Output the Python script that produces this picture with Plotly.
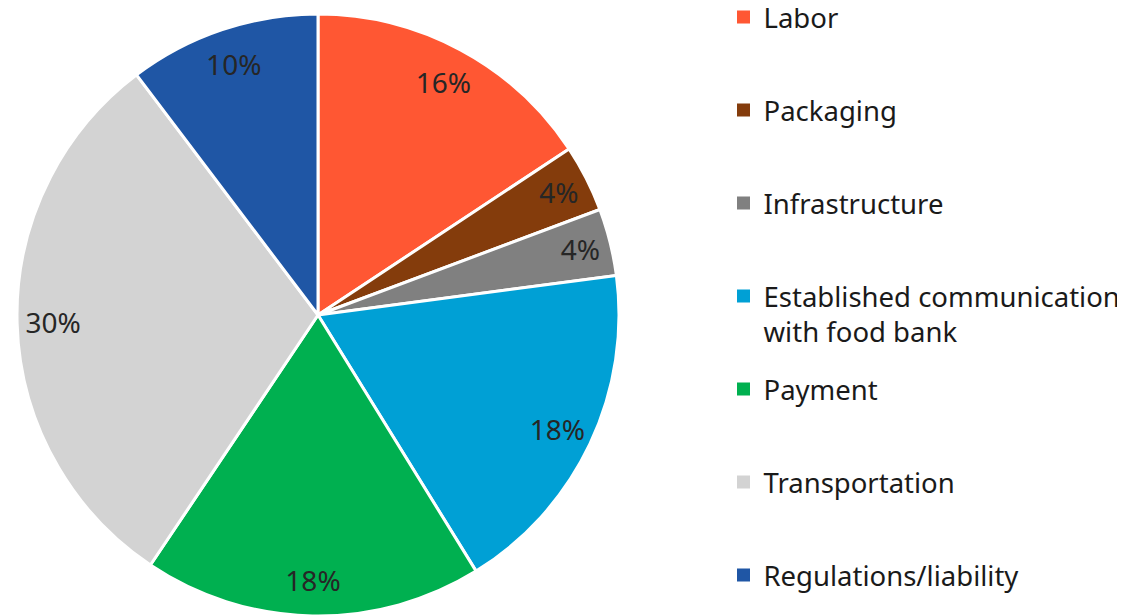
import plotly.graph_objects as go

labels = ["Labor", "Packaging", "Infrastructure", "Established communication<br>with food bank",
          "Payment", "Transportation", "Regulations/liability"]
values = [15.7, 3.6, 3.6, 18.3, 18.2, 30.3, 10.3]
colors = ["#FF5733", "#843C0C", "#808080", "#00A0D5", "#00B050", "#D3D3D3", "#1F56A5"]

font = "Noto Sans"
W, H = 1125, 616
# page body adds an 8px offset, so the pie is placed 8px up/left of the target
cx, cy, r = 310, 307, 301
dom = dict(x=[(cx - r) / W, (cx + r) / W],
           y=[max(0, (H - cy - r) / H), min(1, (H - cy + r) / H)])

fig = go.Figure()

# the slices
fig.add_trace(go.Pie(
    labels=labels, values=values, sort=False, direction="clockwise", rotation=0,
    marker=dict(colors=colors, line=dict(color="white", width=3)),
    textinfo="none", showlegend=False, hoverinfo="skip", domain=dom,
))

# transparent ring on top, only to put the labels near the outer edge
fig.add_trace(go.Pie(
    labels=labels, values=values, sort=False, direction="clockwise", rotation=0, hole=0.76,
    marker=dict(colors=["rgba(0,0,0,0)"] * len(values), line=dict(width=0)),
    texttemplate="%{percent:.0%}", textposition="inside", insidetextorientation="horizontal",
    textfont=dict(family=font, size=28, color="#262626"),
    showlegend=False, domain=dom,
))

# legend, one box per entry so the spacing can follow the original
for i, (lab, col) in enumerate(zip(labels, colors)):
    name = "legend" if i == 0 else f"legend{i + 1}"
    fig.add_trace(go.Scatter(
        x=[None], y=[None], mode="markers", name=lab,
        marker=dict(symbol="square", size=13, color=col),
        legend=name,
    ))
    fig.update_layout({name: dict(
        x=0.636, y=1 - (-15.5 + i * 93) / H, xanchor="left", yanchor="top",
        valign="top", bgcolor="rgba(0,0,0,0)",
        font=dict(family=font, size=27.5, color="#1a1a1a"),
    )})

fig.update_layout(
    width=W, height=H, margin=dict(l=0, r=0, t=0, b=0, autoexpand=False),
    paper_bgcolor="white", plot_bgcolor="white",
    xaxis=dict(visible=False), yaxis=dict(visible=False),
)

fig.write_html("out.html")
